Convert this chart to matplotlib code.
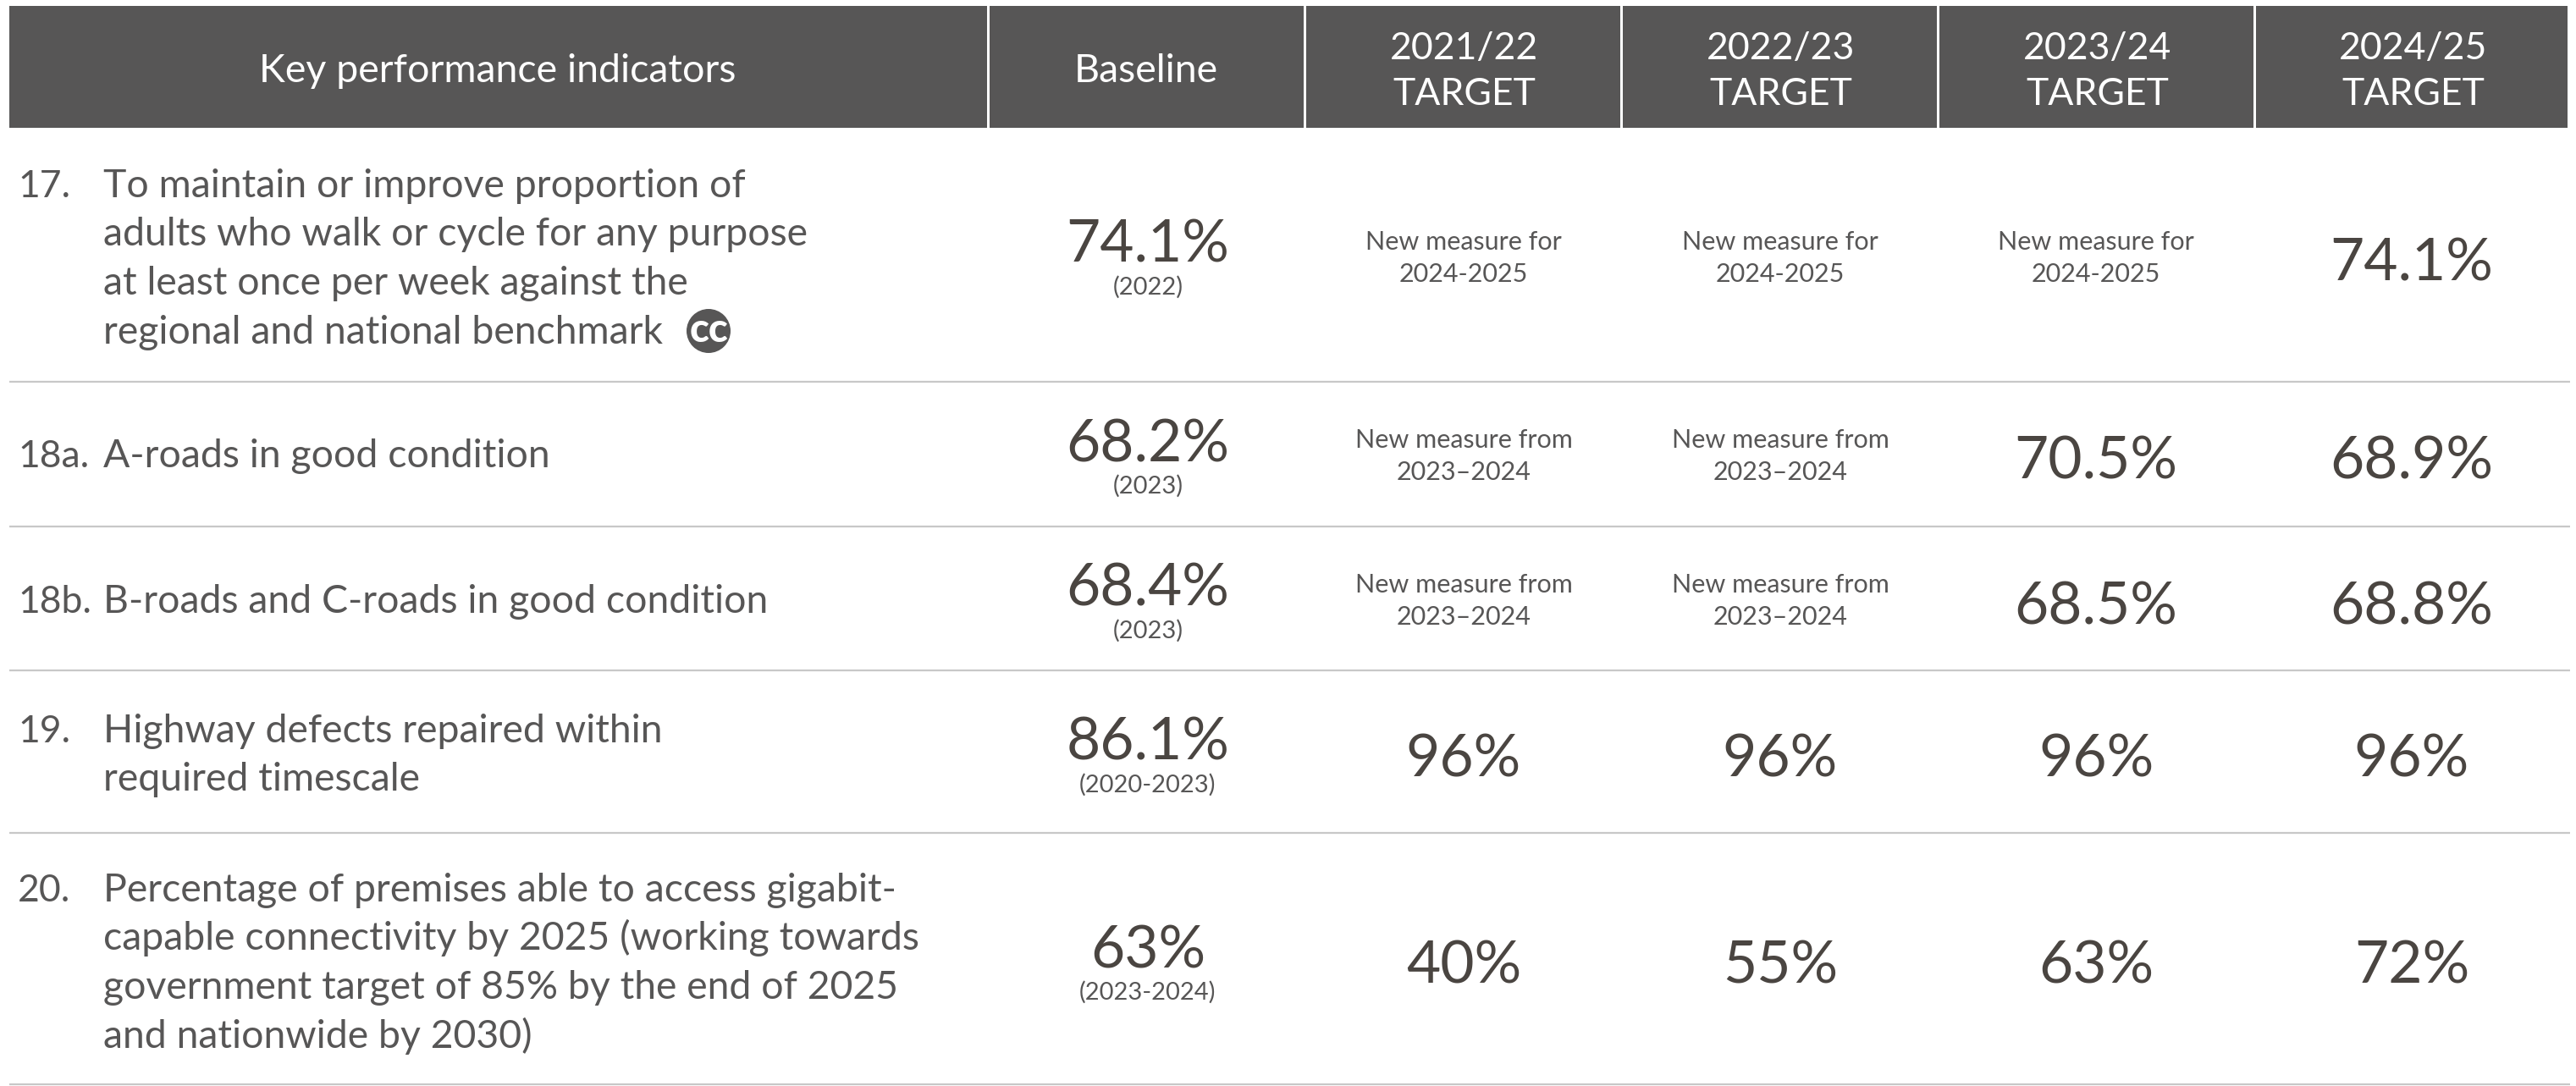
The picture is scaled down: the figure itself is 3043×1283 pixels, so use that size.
import matplotlib
matplotlib.use('Agg')
import matplotlib.pyplot as plt
from matplotlib.patches import Rectangle, Circle

FONT = ['Lato', 'Open Sans', 'DejaVu Sans']
plt.rcParams['font.family'] = FONT

header_labels = ['Key performance indicators', 'Baseline', '2021/22\nTARGET', '2022/23\nTARGET',
                 '2023/24\nTARGET', '2024/25\nTARGET']
row_numbers = ['17.', '18a.', '18b.', '19.', '20.']
row_text = [
    ['To maintain or improve proportion of', 'adults who walk or cycle for any purpose',
     'at least once per week against the', 'regional and national benchmark'],
    ['A-roads in good condition'],
    ['B-roads and C-roads in good condition'],
    ['Highway defects repaired within', 'required timescale'],
    ['Percentage of premises able to access gigabit-', 'capable connectivity by 2025 (working towards',
     'government target of 85% by the end of 2025', 'and nationwide by 2030)'],
]
baseline_values = ['74.1%', '68.2%', '68.4%', '86.1%', '63%']
baseline_years = ['(2022)', '(2023)', '(2023)', '(2020-2023)', '(2023-2024)']
target_2122 = ['New measure for\n2024-2025', 'New measure from\n2023–2024', 'New measure from\n2023–2024', '96%', '40%']
target_2223 = ['New measure for\n2024-2025', 'New measure from\n2023–2024', 'New measure from\n2023–2024', '96%', '55%']
target_2324 = ['New measure for\n2024-2025', '70.5%', '68.5%', '96%', '63%']
target_2425 = ['74.1%', '68.9%', '68.8%', '96%', '72%']

# layout, in pixels of the 3043x1283 picture
col_edges = [11, 1169, 1543, 1917, 2291, 2665, 3036]
col_mid = [1356, 1729, 2103, 2476, 2849]
rules = [451, 622, 792, 984, 1281]
first_line = [233, 552, 724, 877, 1065]
value_base = [310, 545, 716, 898, 1143]
target_base = [332, 566, 737, 918, 1162]
note_base = [295, 529, 700]

HEAD = '#575656'
TEXT = '#575656'
VALUE = '#4a4541'

fig = plt.figure(figsize=(30.43, 12.83), dpi=100)
ax = fig.add_axes([0, 0, 1, 1])
ax.set_xlim(0, 3043)
ax.set_ylim(1283, 0)
ax.axis('off')

# header
for i, label in enumerate(header_labels):
    left, right = col_edges[i], col_edges[i + 1]
    ax.add_patch(Rectangle((left, 7), right - left - 3, 144, fc=HEAD, ec='none'))
    x = (left + right) / 2
    lines = label.split('\n')
    if len(lines) == 1:
        ax.text(x - 2, 97, lines[0], color='white', fontsize=33.5, ha='center', va='baseline')
    else:
        ax.text(x, 70, lines[0], color='white', fontsize=32, ha='center', va='baseline')
        ax.text(x, 124, lines[1], color='white', fontsize=32, ha='center', va='baseline')

ax.hlines(rules, 11, 3036, colors='#c8c8c8', lw=1.6)

# left column
for i in range(len(row_numbers)):
    ax.text(21, first_line[i], row_numbers[i], color=TEXT, fontsize=32, va='baseline')
    for j, line in enumerate(row_text[i]):
        ax.text(122, first_line[i] + j * 57.5, line, color=TEXT, fontsize=33.4, va='baseline')

# cc badge
ax.add_patch(Circle((837, 391), 26, fc=HEAD, ec='none'))
ax.text(837, 404, 'cc', color='white', fontsize=34, fontweight='black', ha='center', va='baseline')

# baseline column
for i in range(len(baseline_values)):
    ax.text(col_mid[0], value_base[i], baseline_values[i], color=VALUE, fontsize=50, ha='center', va='baseline')
    ax.text(col_mid[0], value_base[i] + 38, baseline_years[i], color=TEXT, fontsize=21, ha='center', va='baseline')

# target columns
for c, vals in enumerate([target_2122, target_2223, target_2324, target_2425]):
    x = col_mid[c + 1]
    for i, v in enumerate(vals):
        if '\n' in v:
            top, bottom = v.split('\n')
            ax.text(x, note_base[i], top, color=TEXT, fontsize=22, ha='center', va='baseline')
            ax.text(x, note_base[i] + 38, bottom, color=TEXT, fontsize=22, ha='center', va='baseline')
        else:
            ax.text(x, target_base[i], v, color=VALUE, fontsize=50, ha='center', va='baseline')

fig.savefig('out.png', dpi=100, facecolor='white')
